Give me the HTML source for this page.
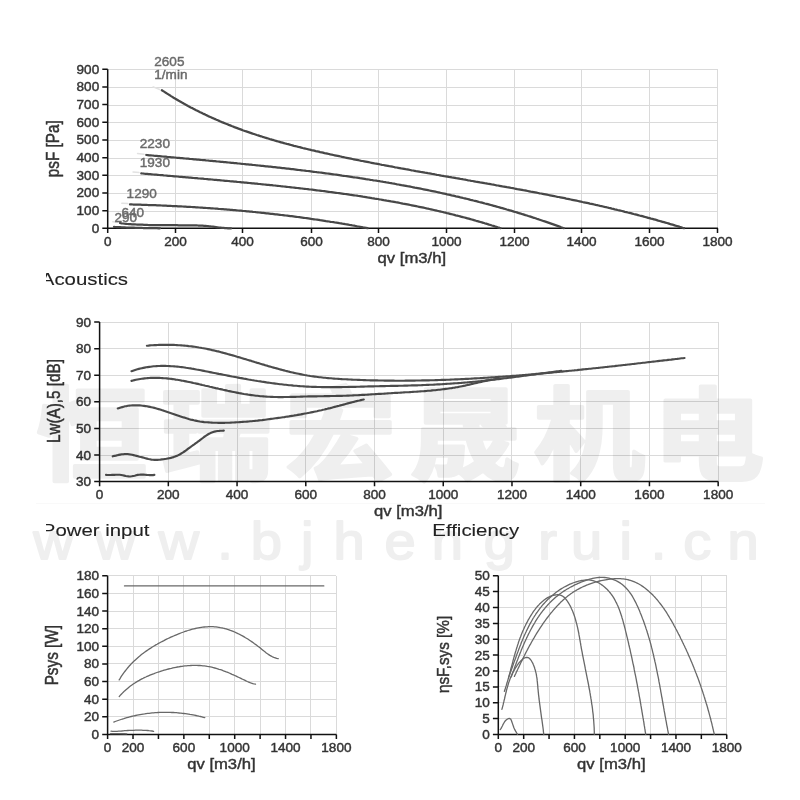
<!DOCTYPE html>
<html lang="zh"><head><meta charset="utf-8"><title>Fan curves</title>
<style>
html,body{margin:0;padding:0;background:#fff;}
body{width:800px;height:800px;overflow:hidden;font-family:"Liberation Sans", Arial, Helvetica, sans-serif;}
svg{display:block;font-family:"Liberation Sans", Arial, Helvetica, sans-serif;filter:blur(0.3px);}
.g{stroke:#dadada;stroke-width:1;fill:none;shape-rendering:crispEdges}
.ax{stroke:#111;stroke-width:1.5;fill:none}
.c1{stroke:#484848;stroke-width:2.25;fill:none;stroke-linecap:round;stroke-linejoin:round}
.c2{stroke:#4c4c4c;stroke-width:2.15;fill:none;stroke-linecap:round;stroke-linejoin:round}
.c3{stroke:#686868;stroke-width:1.3;fill:none;stroke-linecap:round;stroke-linejoin:round}
</style></head><body>
<svg width="800" height="800" viewBox="0 0 800 800">
<defs><clipPath id="clipL"><rect x="46" y="0" width="760" height="800"/></clipPath></defs>
<g clip-path="url(#clipL)">
<text transform="translate(40.8,284.6) scale(1.2,1)" font-size="17" text-anchor="start" fill="#222" stroke="#222" stroke-width="0.1">Acoustics</text>
<text transform="translate(41.8,536.3) scale(1.2,1)" font-size="17" text-anchor="start" fill="#222" stroke="#222" stroke-width="0.1">Power input</text>
</g>
<text transform="translate(432.3,536.3) scale(1.2,1)" font-size="17" text-anchor="start" fill="#222" stroke="#222" stroke-width="0.1">Efficiency</text>
<path d="M36,503.5 H765" stroke="#f9f9f9" stroke-width="1" fill="none"/>
<path class="g" d="M175.5,69.25 V228.35 M242.5,69.25 V228.35 M311.5,69.25 V228.35 M378.5,69.25 V228.35 M446.5,69.25 V228.35 M514.5,69.25 V228.35 M581.5,69.25 V228.35 M649.5,69.25 V228.35 M717.5,69.25 V228.35 M107.7,211.5 H717.9 M107.7,193.5 H717.9 M107.7,175.5 H717.9 M107.7,158.5 H717.9 M107.7,140.5 H717.9 M107.7,122.5 H717.9 M107.7,105.5 H717.9 M107.7,87.5 H717.9 M107.7,69.5 H717.9 "/>
<path class="ax" d="M107.7,69.25 V228.35 H717.9 M107.7,228.35 v4.6 M175.5,228.35 v4.6 M242.5,228.35 v4.6 M311.5,228.35 v4.6 M378.5,228.35 v4.6 M446.5,228.35 v4.6 M514.5,228.35 v4.6 M581.5,228.35 v4.6 M649.5,228.35 v4.6 M717.5,228.35 v4.6 M107.7,228.35 h-5.4 M107.7,210.67 h-5.4 M107.7,192.99 h-5.4 M107.7,175.32 h-5.4 M107.7,157.64 h-5.4 M107.7,139.96 h-5.4 M107.7,122.28 h-5.4 M107.7,104.6 h-5.4 M107.7,86.93 h-5.4 M107.7,69.25 h-5.4 "/>
<text transform="translate(107.7,245.85) scale(1.13,1)" font-size="12" text-anchor="middle" fill="#333" stroke="#333" stroke-width="0.4">0</text>
<text transform="translate(175.5,245.85) scale(1.13,1)" font-size="12" text-anchor="middle" fill="#333" stroke="#333" stroke-width="0.4">200</text>
<text transform="translate(242.5,245.85) scale(1.13,1)" font-size="12" text-anchor="middle" fill="#333" stroke="#333" stroke-width="0.4">400</text>
<text transform="translate(311.5,245.85) scale(1.13,1)" font-size="12" text-anchor="middle" fill="#333" stroke="#333" stroke-width="0.4">600</text>
<text transform="translate(378.5,245.85) scale(1.13,1)" font-size="12" text-anchor="middle" fill="#333" stroke="#333" stroke-width="0.4">800</text>
<text transform="translate(446.5,245.85) scale(1.13,1)" font-size="12" text-anchor="middle" fill="#333" stroke="#333" stroke-width="0.4">1000</text>
<text transform="translate(514.5,245.85) scale(1.13,1)" font-size="12" text-anchor="middle" fill="#333" stroke="#333" stroke-width="0.4">1200</text>
<text transform="translate(581.5,245.85) scale(1.13,1)" font-size="12" text-anchor="middle" fill="#333" stroke="#333" stroke-width="0.4">1400</text>
<text transform="translate(649.5,245.85) scale(1.13,1)" font-size="12" text-anchor="middle" fill="#333" stroke="#333" stroke-width="0.4">1600</text>
<text transform="translate(717.5,245.85) scale(1.13,1)" font-size="12" text-anchor="middle" fill="#333" stroke="#333" stroke-width="0.4">1800</text>
<text transform="translate(99.2,232.85) scale(1.13,1)" font-size="12" text-anchor="end" fill="#333" stroke="#333" stroke-width="0.4">0</text>
<text transform="translate(99.2,215.17) scale(1.13,1)" font-size="12" text-anchor="end" fill="#333" stroke="#333" stroke-width="0.4">100</text>
<text transform="translate(99.2,197.49) scale(1.13,1)" font-size="12" text-anchor="end" fill="#333" stroke="#333" stroke-width="0.4">200</text>
<text transform="translate(99.2,179.82) scale(1.13,1)" font-size="12" text-anchor="end" fill="#333" stroke="#333" stroke-width="0.4">300</text>
<text transform="translate(99.2,162.14) scale(1.13,1)" font-size="12" text-anchor="end" fill="#333" stroke="#333" stroke-width="0.4">400</text>
<text transform="translate(99.2,144.46) scale(1.13,1)" font-size="12" text-anchor="end" fill="#333" stroke="#333" stroke-width="0.4">500</text>
<text transform="translate(99.2,126.78) scale(1.13,1)" font-size="12" text-anchor="end" fill="#333" stroke="#333" stroke-width="0.4">600</text>
<text transform="translate(99.2,109.1) scale(1.13,1)" font-size="12" text-anchor="end" fill="#333" stroke="#333" stroke-width="0.4">700</text>
<text transform="translate(99.2,91.43) scale(1.13,1)" font-size="12" text-anchor="end" fill="#333" stroke="#333" stroke-width="0.4">800</text>
<text transform="translate(99.2,73.75) scale(1.13,1)" font-size="12" text-anchor="end" fill="#333" stroke="#333" stroke-width="0.4">900</text>
<text transform="translate(411.8,262.8) scale(1.19,1)" font-size="14" text-anchor="middle" fill="#333" stroke="#333" stroke-width="0.4">qv [m3/h]</text>
<text transform="translate(59.4,148.7) rotate(-90) scale(1.04,1.19)" font-size="14.7" text-anchor="middle" fill="#333" stroke="#333" stroke-width="0.4">psF [Pa]</text>
<path class="c1" d="M161.9,90.3 163.2,91.1 164.5,91.9 165.8,92.8 167.1,93.6 168.4,94.4 169.7,95.2 171.0,96.1 172.3,96.9 173.6,97.7 174.9,98.4 176.2,99.2 177.5,100.0 178.8,100.8 180.1,101.5 181.5,102.3 182.8,103.0 184.1,103.8 185.4,104.5 186.7,105.2 188.1,106.0 189.4,106.7 190.7,107.4 192.1,108.1 193.4,108.8 194.8,109.5 196.1,110.2 197.4,110.8 198.8,111.5 200.1,112.2 201.5,112.8 202.8,113.5 204.2,114.1 205.5,114.8 206.9,115.4 208.2,116.1 209.6,116.7 211.0,117.3 212.3,117.9 213.7,118.5 215.1,119.1 216.4,119.7 217.8,120.3 219.2,120.9 220.5,121.5 221.9,122.1 223.3,122.6 224.7,123.2 226.1,123.8 227.4,124.3 228.8,124.9 230.2,125.4 231.6,126.0 233.0,126.5 234.4,127.1 235.8,127.6 237.2,128.1 238.5,128.6 239.9,129.1 241.3,129.6 242.7,130.2 244.1,130.7 245.5,131.2 246.9,131.6 248.4,132.1 249.8,132.6 251.2,133.1 252.6,133.6 254.0,134.0 255.4,134.5 256.8,135.0 258.2,135.4 259.6,135.9 261.1,136.3 262.5,136.8 263.9,137.2 265.3,137.7 266.7,138.1 268.2,138.5 269.6,139.0 271.0,139.4 272.4,139.8 273.9,140.2 275.3,140.7 276.7,141.1 278.2,141.5 279.6,141.9 281.0,142.3 282.5,142.7 283.9,143.1 285.3,143.5 286.8,143.9 288.2,144.2 289.7,144.6 291.1,145.0 292.5,145.4 294.0,145.8 295.4,146.1 296.9,146.5 298.3,146.9 299.8,147.2 301.2,147.6 302.7,148.0 304.1,148.3 305.6,148.7 307.0,149.0 308.5,149.4 309.9,149.7 311.4,150.1 312.8,150.4 314.3,150.7 315.7,151.1 317.2,151.4 318.7,151.7 320.1,152.1 321.6,152.4 323.0,152.7 324.5,153.1 326.0,153.4 327.4,153.7 328.9,154.0 330.3,154.4 331.8,154.7 333.3,155.0 334.7,155.3 336.2,155.6 337.7,155.9 339.1,156.2 340.6,156.5 342.1,156.9 343.5,157.2 345.0,157.5 346.5,157.8 348.0,158.1 349.4,158.4 350.9,158.7 352.4,159.0 353.8,159.3 355.3,159.6 356.8,159.9 358.3,160.2 359.7,160.5 361.2,160.8 362.7,161.0 364.2,161.3 365.6,161.6 367.1,161.9 368.6,162.2 370.1,162.5 371.5,162.8 373.0,163.1 374.5,163.4 376.0,163.6 377.5,163.9 378.9,164.2 380.4,164.5 381.9,164.8 383.4,165.0 384.9,165.3 386.3,165.6 387.8,165.9 389.3,166.2 390.8,166.4 392.3,166.7 393.8,167.0 395.2,167.3 396.7,167.5 398.2,167.8 399.7,168.1 401.2,168.4 402.7,168.6 404.1,168.9 405.6,169.2 407.1,169.4 408.6,169.7 410.1,170.0 411.6,170.3 413.1,170.5 414.5,170.8 416.0,171.1 417.5,171.3 419.0,171.6 420.5,171.9 422.0,172.1 423.5,172.4 425.0,172.7 426.5,172.9 427.9,173.2 429.4,173.4 430.9,173.7 432.4,174.0 433.9,174.2 435.4,174.5 436.9,174.8 438.4,175.0 439.9,175.3 441.3,175.6 442.8,175.8 444.3,176.1 445.8,176.3 447.3,176.6 448.8,176.9 450.3,177.1 451.8,177.4 453.3,177.6 454.8,177.9 456.2,178.2 457.7,178.4 459.2,178.7 460.7,179.0 462.2,179.2 463.7,179.5 465.2,179.7 466.7,180.0 468.2,180.3 469.7,180.5 471.1,180.8 472.6,181.0 474.1,181.3 475.6,181.6 477.1,181.8 478.6,182.1 480.1,182.4 481.6,182.6 483.1,182.9 484.6,183.2 486.1,183.4 487.5,183.7 489.0,183.9 490.5,184.2 492.0,184.5 493.5,184.7 495.0,185.0 496.5,185.3 498.0,185.5 499.5,185.8 500.9,186.1 502.4,186.4 503.9,186.6 505.4,186.9 506.9,187.2 508.4,187.4 509.9,187.7 511.4,188.0 512.9,188.2 514.3,188.5 515.8,188.8 517.3,189.1 518.8,189.3 520.3,189.6 521.8,189.9 523.3,190.2 524.8,190.4 526.2,190.7 527.7,191.0 529.2,191.3 530.7,191.6 532.2,191.8 533.7,192.1 535.1,192.4 536.6,192.7 538.1,193.0 539.6,193.3 541.1,193.5 542.6,193.8 544.0,194.1 545.5,194.4 547.0,194.7 548.5,195.0 550.0,195.3 551.5,195.6 552.9,195.9 554.4,196.2 555.9,196.5 557.4,196.8 558.9,197.0 560.3,197.3 561.8,197.6 563.3,197.9 564.8,198.2 566.2,198.6 567.7,198.9 569.2,199.2 570.7,199.5 572.2,199.8 573.6,200.1 575.1,200.4 576.6,200.7 578.0,201.0 579.5,201.3 581.0,201.6 582.5,202.0 583.9,202.3 585.4,202.6 586.9,202.9 588.4,203.2 589.8,203.6 591.3,203.9 592.8,204.2 594.2,204.5 595.7,204.9 597.2,205.2 598.6,205.5 600.1,205.9 601.6,206.2 603.0,206.5 604.5,206.9 606.0,207.2 607.4,207.5 608.9,207.9 610.3,208.2 611.8,208.6 613.3,208.9 614.7,209.3 616.2,209.6 617.6,210.0 619.1,210.3 620.6,210.7 622.0,211.0 623.5,211.4 624.9,211.8 626.4,212.1 627.8,212.5 629.3,212.8 630.8,213.2 632.2,213.6 633.7,214.0 635.1,214.3 636.6,214.7 638.0,215.1 639.5,215.5 640.9,215.8 642.4,216.2 643.8,216.6 645.2,217.0 646.7,217.4 648.1,217.8 649.6,218.2 651.0,218.6 652.5,218.9 653.9,219.3 655.4,219.7 656.8,220.1 658.2,220.6 659.7,221.0 661.1,221.4 662.5,221.8 664.0,222.2 665.4,222.6 666.9,223.0 668.3,223.4 669.7,223.9 671.1,224.3 672.6,224.7 674.0,225.1 675.4,225.6 676.9,226.0 678.3,226.4 679.7,226.9 681.2,227.3 682.6,227.8 684.0,228.2"/>
<path class="c1" d="M146.3,155.0 147.7,155.1 149.2,155.3 150.7,155.4 152.2,155.5 153.7,155.7 155.2,155.8 156.7,155.9 158.2,156.1 159.7,156.2 161.2,156.3 162.7,156.5 164.2,156.6 165.7,156.7 167.2,156.9 168.6,157.0 170.1,157.1 171.6,157.3 173.1,157.4 174.6,157.5 176.1,157.7 177.6,157.8 179.1,157.9 180.6,158.1 182.1,158.2 183.6,158.3 185.1,158.5 186.6,158.6 188.1,158.7 189.6,158.9 191.1,159.0 192.6,159.1 194.1,159.3 195.6,159.4 197.1,159.6 198.6,159.7 200.1,159.8 201.6,160.0 203.0,160.1 204.5,160.2 206.0,160.4 207.5,160.5 209.0,160.7 210.5,160.8 212.0,160.9 213.5,161.1 215.0,161.2 216.5,161.4 218.0,161.5 219.5,161.6 221.0,161.8 222.5,161.9 224.0,162.1 225.5,162.2 227.0,162.3 228.5,162.5 230.0,162.6 231.5,162.8 233.0,162.9 234.5,163.1 236.0,163.2 237.5,163.4 239.0,163.5 240.5,163.7 242.0,163.8 243.5,164.0 245.0,164.1 246.5,164.3 248.0,164.4 249.5,164.6 251.0,164.7 252.5,164.9 254.0,165.0 255.5,165.2 257.0,165.3 258.5,165.5 260.0,165.6 261.5,165.8 262.9,165.9 264.4,166.1 265.9,166.3 267.4,166.4 268.9,166.6 270.4,166.7 271.9,166.9 273.4,167.1 274.9,167.2 276.4,167.4 277.9,167.6 279.4,167.7 280.9,167.9 282.4,168.1 283.9,168.2 285.4,168.4 286.9,168.6 288.4,168.7 289.9,168.9 291.4,169.1 292.9,169.2 294.4,169.4 295.9,169.6 297.4,169.8 298.9,170.0 300.4,170.1 301.8,170.3 303.3,170.5 304.8,170.7 306.3,170.9 307.8,171.0 309.3,171.2 310.8,171.4 312.3,171.6 313.8,171.8 315.3,172.0 316.8,172.2 318.3,172.3 319.8,172.5 321.3,172.7 322.8,172.9 324.2,173.1 325.7,173.3 327.2,173.5 328.7,173.7 330.2,173.9 331.7,174.1 333.2,174.3 334.7,174.5 336.2,174.7 337.7,174.9 339.2,175.1 340.6,175.3 342.1,175.6 343.6,175.8 345.1,176.0 346.6,176.2 348.1,176.4 349.6,176.6 351.1,176.8 352.6,177.1 354.0,177.3 355.5,177.5 357.0,177.7 358.5,177.9 360.0,178.2 361.5,178.4 363.0,178.6 364.5,178.8 365.9,179.1 367.4,179.3 368.9,179.5 370.4,179.8 371.9,180.0 373.4,180.3 374.8,180.5 376.3,180.7 377.8,181.0 379.3,181.2 380.8,181.5 382.3,181.7 383.7,182.0 385.2,182.2 386.7,182.5 388.2,182.7 389.7,183.0 391.1,183.2 392.6,183.5 394.1,183.7 395.6,184.0 397.1,184.3 398.5,184.5 400.0,184.8 401.5,185.1 403.0,185.3 404.4,185.6 405.9,185.9 407.4,186.2 408.9,186.4 410.4,186.7 411.8,187.0 413.3,187.3 414.8,187.6 416.3,187.8 417.7,188.1 419.2,188.4 420.7,188.7 422.1,189.0 423.6,189.3 425.1,189.6 426.6,189.9 428.0,190.2 429.5,190.5 431.0,190.8 432.4,191.1 433.9,191.4 435.4,191.7 436.8,192.0 438.3,192.3 439.8,192.7 441.2,193.0 442.7,193.3 444.2,193.6 445.6,193.9 447.1,194.3 448.6,194.6 450.0,194.9 451.5,195.3 453.0,195.6 454.4,195.9 455.9,196.3 457.3,196.6 458.8,196.9 460.3,197.3 461.7,197.6 463.2,198.0 464.6,198.3 466.1,198.7 467.6,199.0 469.0,199.4 470.5,199.8 471.9,200.1 473.4,200.5 474.8,200.8 476.3,201.2 477.8,201.6 479.2,202.0 480.7,202.3 482.1,202.7 483.6,203.1 485.0,203.5 486.5,203.8 487.9,204.2 489.4,204.6 490.8,205.0 492.3,205.4 493.7,205.8 495.2,206.2 496.6,206.6 498.1,207.0 499.5,207.4 500.9,207.8 502.4,208.2 503.8,208.6 505.3,209.0 506.7,209.5 508.2,209.9 509.6,210.3 511.0,210.7 512.5,211.1 513.9,211.6 515.4,212.0 516.8,212.4 518.2,212.9 519.7,213.3 521.1,213.7 522.5,214.2 524.0,214.6 525.4,215.1 526.9,215.5 528.3,216.0 529.7,216.4 531.2,216.9 532.6,217.4 534.0,217.8 535.4,218.3 536.9,218.8 538.3,219.2 539.7,219.7 541.2,220.2 542.6,220.7 544.0,221.2 545.4,221.6 546.9,222.1 548.3,222.6 549.7,223.1 551.1,223.6 552.6,224.1 554.0,224.6 555.4,225.1 556.8,225.6 558.2,226.1 559.6,226.6 561.1,227.2 562.5,227.7 563.9,228.2"/>
<path class="c1" d="M141.3,173.4 142.7,173.5 144.2,173.7 145.7,173.8 147.2,173.9 148.7,174.1 150.2,174.2 151.7,174.3 153.2,174.5 154.7,174.6 156.2,174.7 157.7,174.8 159.2,175.0 160.7,175.1 162.2,175.2 163.7,175.4 165.2,175.5 166.7,175.6 168.2,175.8 169.7,175.9 171.2,176.0 172.7,176.1 174.2,176.3 175.7,176.4 177.2,176.5 178.7,176.7 180.2,176.8 181.7,176.9 183.2,177.1 184.7,177.2 186.2,177.3 187.7,177.4 189.2,177.6 190.7,177.7 192.2,177.8 193.7,178.0 195.2,178.1 196.7,178.2 198.2,178.4 199.7,178.5 201.2,178.6 202.7,178.7 204.2,178.9 205.7,179.0 207.2,179.1 208.7,179.3 210.2,179.4 211.7,179.5 213.2,179.7 214.7,179.8 216.2,179.9 217.7,180.1 219.2,180.2 220.7,180.3 222.2,180.5 223.7,180.6 225.2,180.8 226.7,180.9 228.2,181.0 229.7,181.2 231.2,181.3 232.7,181.4 234.2,181.6 235.7,181.7 237.2,181.9 238.7,182.0 240.2,182.1 241.7,182.3 243.2,182.4 244.7,182.6 246.2,182.7 247.7,182.8 249.2,183.0 250.7,183.1 252.2,183.3 253.7,183.4 255.2,183.6 256.7,183.7 258.2,183.9 259.7,184.0 261.2,184.2 262.7,184.3 264.2,184.5 265.7,184.6 267.2,184.8 268.7,184.9 270.2,185.1 271.7,185.2 273.2,185.4 274.7,185.5 276.2,185.7 277.7,185.8 279.2,186.0 280.7,186.2 282.2,186.3 283.7,186.5 285.2,186.6 286.7,186.8 288.2,187.0 289.7,187.1 291.2,187.3 292.7,187.5 294.2,187.6 295.7,187.8 297.2,188.0 298.7,188.1 300.2,188.3 301.7,188.5 303.2,188.7 304.7,188.8 306.2,189.0 307.7,189.2 309.2,189.4 310.7,189.5 312.2,189.7 313.7,189.9 315.2,190.1 316.7,190.3 318.2,190.5 319.7,190.6 321.2,190.8 322.7,191.0 324.2,191.2 325.7,191.4 327.1,191.6 328.6,191.8 330.1,192.0 331.6,192.2 333.1,192.4 334.6,192.6 336.1,192.8 337.6,193.0 339.1,193.2 340.6,193.4 342.1,193.6 343.6,193.8 345.1,194.0 346.5,194.2 348.0,194.4 349.5,194.7 351.0,194.9 352.5,195.1 354.0,195.3 355.5,195.5 357.0,195.7 358.5,196.0 360.0,196.2 361.4,196.4 362.9,196.7 364.4,196.9 365.9,197.1 367.4,197.4 368.9,197.6 370.4,197.8 371.8,198.1 373.3,198.3 374.8,198.6 376.3,198.8 377.8,199.0 379.3,199.3 380.7,199.5 382.2,199.8 383.7,200.1 385.2,200.3 386.7,200.6 388.2,200.8 389.6,201.1 391.1,201.4 392.6,201.6 394.1,201.9 395.6,202.2 397.0,202.4 398.5,202.7 400.0,203.0 401.5,203.3 402.9,203.6 404.4,203.8 405.9,204.1 407.4,204.4 408.8,204.7 410.3,205.0 411.8,205.3 413.3,205.6 414.7,205.9 416.2,206.2 417.7,206.5 419.1,206.8 420.6,207.1 422.1,207.4 423.6,207.7 425.0,208.0 426.5,208.4 428.0,208.7 429.4,209.0 430.9,209.3 432.4,209.7 433.8,210.0 435.3,210.3 436.8,210.7 438.2,211.0 439.7,211.3 441.1,211.7 442.6,212.0 444.1,212.4 445.5,212.7 447.0,213.1 448.5,213.4 449.9,213.8 451.4,214.2 452.8,214.5 454.3,214.9 455.7,215.3 457.2,215.6 458.7,216.0 460.1,216.4 461.6,216.8 463.0,217.2 464.5,217.5 465.9,217.9 467.4,218.3 468.8,218.7 470.3,219.1 471.7,219.5 473.2,219.9 474.6,220.3 476.1,220.8 477.5,221.2 479.0,221.6 480.4,222.0 481.9,222.4 483.3,222.8 484.8,223.3 486.2,223.7 487.6,224.1 489.1,224.6 490.5,225.0 492.0,225.5 493.4,225.9 494.8,226.4 496.3,226.8 497.7,227.3 499.2,227.7 500.6,228.2"/>
<path class="c1" d="M130.0,204.4 131.5,204.4 133.0,204.5 134.5,204.5 136.0,204.6 137.5,204.6 139.0,204.7 140.5,204.7 142.0,204.8 143.5,204.8 145.0,204.9 146.5,204.9 148.0,205.0 149.5,205.0 151.0,205.1 152.5,205.1 154.0,205.2 155.5,205.2 157.0,205.3 158.5,205.4 160.0,205.4 161.5,205.5 163.0,205.6 164.5,205.6 166.0,205.7 167.5,205.8 169.0,205.8 170.5,205.9 172.0,206.0 173.5,206.0 175.0,206.1 176.5,206.2 178.0,206.3 179.5,206.4 181.1,206.4 182.6,206.5 184.1,206.6 185.6,206.7 187.1,206.8 188.6,206.9 190.1,206.9 191.6,207.0 193.1,207.1 194.6,207.2 196.1,207.3 197.6,207.4 199.1,207.5 200.6,207.6 202.1,207.7 203.6,207.8 205.1,207.9 206.6,208.0 208.1,208.1 209.6,208.2 211.1,208.3 212.6,208.4 214.1,208.5 215.5,208.6 217.0,208.7 218.5,208.9 220.0,209.0 221.5,209.1 223.0,209.2 224.5,209.3 226.0,209.4 227.5,209.6 229.0,209.7 230.5,209.8 232.0,209.9 233.5,210.1 235.0,210.2 236.5,210.3 238.0,210.5 239.5,210.6 241.0,210.7 242.5,210.9 244.0,211.0 245.5,211.1 247.0,211.3 248.5,211.4 250.0,211.6 251.5,211.7 253.0,211.9 254.5,212.0 256.0,212.2 257.5,212.3 259.0,212.5 260.5,212.6 262.0,212.8 263.4,212.9 264.9,213.1 266.4,213.3 267.9,213.4 269.4,213.6 270.9,213.8 272.4,213.9 273.9,214.1 275.4,214.3 276.9,214.4 278.4,214.6 279.9,214.8 281.4,215.0 282.9,215.1 284.3,215.3 285.8,215.5 287.3,215.7 288.8,215.9 290.3,216.1 291.8,216.2 293.3,216.4 294.8,216.6 296.3,216.8 297.8,217.0 299.3,217.2 300.7,217.4 302.2,217.6 303.7,217.8 305.2,218.0 306.7,218.2 308.2,218.4 309.7,218.6 311.2,218.9 312.7,219.1 314.1,219.3 315.6,219.5 317.1,219.7 318.6,219.9 320.1,220.2 321.6,220.4 323.1,220.6 324.5,220.8 326.0,221.1 327.5,221.3 329.0,221.5 330.5,221.8 332.0,222.0 333.5,222.2 334.9,222.5 336.4,222.7 337.9,222.9 339.4,223.2 340.9,223.4 342.3,223.7 343.8,223.9 345.3,224.2 346.8,224.4 348.3,224.7 349.8,225.0 351.2,225.2 352.7,225.5 354.2,225.7 355.7,226.0 357.2,226.3 358.6,226.5 360.1,226.8 361.6,227.1 363.1,227.4 364.5,227.6 366.0,227.9 367.5,228.2"/>
<path class="c1" d="M120.0,223.0 121.5,223.3 123.0,223.5 124.5,223.7 126.0,223.8 127.5,224.0 129.0,224.1 130.5,224.2 132.0,224.3 133.5,224.4 135.0,224.4 136.5,224.5 138.0,224.5 139.5,224.6 141.0,224.6 142.5,224.7 144.0,224.8 145.5,224.8 147.0,224.9 148.5,225.0 150.0,225.0 151.5,225.1 153.0,225.1 154.5,225.2 156.0,225.2 157.5,225.2 159.0,225.2 160.5,225.1 162.0,225.1 163.5,225.1 165.0,225.1 166.5,225.1 168.0,225.1 169.5,225.1 171.0,225.1 172.5,225.1 174.0,225.2 175.5,225.2 177.0,225.2 178.5,225.3 180.0,225.3 181.5,225.3 183.0,225.3 184.5,225.4 186.0,225.4 187.5,225.4 189.0,225.4 190.5,225.4 192.0,225.4 193.5,225.4 195.0,225.4 196.5,225.4 198.1,225.5 199.6,225.5 201.1,225.6 202.6,225.7 204.1,225.8 205.6,225.9 207.1,226.0 208.6,226.2 210.1,226.3 211.5,226.5 213.0,226.7 214.5,226.9 216.0,227.1 217.5,227.3 219.0,227.5 220.5,227.6 222.0,227.8 223.5,227.9 225.0,228.1 226.5,228.2 228.0,228.3 229.5,228.4 231.0,228.4"/>
<path class="c1" d="M114.0,226.9 115.5,227.0 117.1,227.1 118.6,227.1 120.1,227.2 121.7,227.3 123.2,227.3 124.7,227.4 126.3,227.5 127.8,227.5 129.3,227.6 130.9,227.6 132.4,227.7 133.9,227.7 135.5,227.8 137.0,227.8 138.5,227.9 140.1,227.9 141.6,227.9 143.1,228.0 144.7,228.0 146.2,228.0 147.7,228.1 149.3,228.1 150.8,228.1 152.3,228.2 153.9,228.2 155.4,228.2 156.9,228.2 158.5,228.3 160.0,228.3"/>
<path d="M159.7,89.45 l-6.5,-2.6" stroke="#e2e2e2" stroke-width="1.5" fill="none" stroke-linecap="round"/>
<path d="M144.05,154.2 l-6.5,-0.6" stroke="#e2e2e2" stroke-width="1.5" fill="none" stroke-linecap="round"/>
<path d="M139.05,172.6 l-6,-0.5" stroke="#e2e2e2" stroke-width="1.5" fill="none" stroke-linecap="round"/>
<path d="M127.8,203.6 l-6,-0.4" stroke="#e2e2e2" stroke-width="1.5" fill="none" stroke-linecap="round"/>
<path d="M117.8,222.2 l-5,-0.4" stroke="#e2e2e2" stroke-width="1.5" fill="none" stroke-linecap="round"/>
<text transform="translate(154.3,66) scale(1.13,1)" font-size="12" text-anchor="start" fill="#6a6a6a" stroke="#6a6a6a" stroke-width="0.4">2605</text>
<text transform="translate(154.3,78.8) scale(1.13,1)" font-size="12" text-anchor="start" fill="#6a6a6a" stroke="#6a6a6a" stroke-width="0.4">1/min</text>
<text transform="translate(139.8,148.2) scale(1.13,1)" font-size="12" text-anchor="start" fill="#6a6a6a" stroke="#6a6a6a" stroke-width="0.4">2230</text>
<text transform="translate(139.8,166.8) scale(1.13,1)" font-size="12" text-anchor="start" fill="#6a6a6a" stroke="#6a6a6a" stroke-width="0.4">1930</text>
<text transform="translate(126.6,197.6) scale(1.13,1)" font-size="12" text-anchor="start" fill="#6a6a6a" stroke="#6a6a6a" stroke-width="0.4">1290</text>
<text transform="translate(121.5,216.8) scale(1.13,1)" font-size="12" text-anchor="start" fill="#6a6a6a" stroke="#6a6a6a" stroke-width="0.4">640</text>
<text transform="translate(114.5,222) scale(1.13,1)" font-size="12" text-anchor="start" fill="#6a6a6a" stroke="#6a6a6a" stroke-width="0.4">290</text>
<path class="g" d="M168.5,322.12 V481.6 M237.5,322.12 V481.6 M305.5,322.12 V481.6 M374.5,322.12 V481.6 M443.5,322.12 V481.6 M511.5,322.12 V481.6 M580.5,322.12 V481.6 M649.5,322.12 V481.6 M718.5,322.12 V481.6 M99.6,455.5 H718.17 M99.6,428.5 H718.17 M99.6,401.5 H718.17 M99.6,375.5 H718.17 M99.6,348.5 H718.17 M99.6,322.5 H718.17 "/>
<path class="ax" d="M99.6,322.12 V481.6 H718.17 M99.6,481.6 v4.6 M168.33,481.6 v4.6 M237.06,481.6 v4.6 M305.79,481.6 v4.6 M374.52,481.6 v4.6 M443.25,481.6 v4.6 M511.98,481.6 v4.6 M580.71,481.6 v4.6 M649.44,481.6 v4.6 M718.17,481.6 v4.6 M99.6,481.6 h-5.4 M99.6,455.02 h-5.4 M99.6,428.44 h-5.4 M99.6,401.86 h-5.4 M99.6,375.28 h-5.4 M99.6,348.7 h-5.4 M99.6,322.12 h-5.4 "/>
<text transform="translate(99.6,499.1) scale(1.13,1)" font-size="12" text-anchor="middle" fill="#333" stroke="#333" stroke-width="0.4">0</text>
<text transform="translate(168.33,499.1) scale(1.13,1)" font-size="12" text-anchor="middle" fill="#333" stroke="#333" stroke-width="0.4">200</text>
<text transform="translate(237.06,499.1) scale(1.13,1)" font-size="12" text-anchor="middle" fill="#333" stroke="#333" stroke-width="0.4">400</text>
<text transform="translate(305.79,499.1) scale(1.13,1)" font-size="12" text-anchor="middle" fill="#333" stroke="#333" stroke-width="0.4">600</text>
<text transform="translate(374.52,499.1) scale(1.13,1)" font-size="12" text-anchor="middle" fill="#333" stroke="#333" stroke-width="0.4">800</text>
<text transform="translate(443.25,499.1) scale(1.13,1)" font-size="12" text-anchor="middle" fill="#333" stroke="#333" stroke-width="0.4">1000</text>
<text transform="translate(511.98,499.1) scale(1.13,1)" font-size="12" text-anchor="middle" fill="#333" stroke="#333" stroke-width="0.4">1200</text>
<text transform="translate(580.71,499.1) scale(1.13,1)" font-size="12" text-anchor="middle" fill="#333" stroke="#333" stroke-width="0.4">1400</text>
<text transform="translate(649.44,499.1) scale(1.13,1)" font-size="12" text-anchor="middle" fill="#333" stroke="#333" stroke-width="0.4">1600</text>
<text transform="translate(718.17,499.1) scale(1.13,1)" font-size="12" text-anchor="middle" fill="#333" stroke="#333" stroke-width="0.4">1800</text>
<text transform="translate(91.1,486.1) scale(1.13,1)" font-size="12" text-anchor="end" fill="#333" stroke="#333" stroke-width="0.4">30</text>
<text transform="translate(91.1,459.52) scale(1.13,1)" font-size="12" text-anchor="end" fill="#333" stroke="#333" stroke-width="0.4">40</text>
<text transform="translate(91.1,432.94) scale(1.13,1)" font-size="12" text-anchor="end" fill="#333" stroke="#333" stroke-width="0.4">50</text>
<text transform="translate(91.1,406.36) scale(1.13,1)" font-size="12" text-anchor="end" fill="#333" stroke="#333" stroke-width="0.4">60</text>
<text transform="translate(91.1,379.78) scale(1.13,1)" font-size="12" text-anchor="end" fill="#333" stroke="#333" stroke-width="0.4">70</text>
<text transform="translate(91.1,353.2) scale(1.13,1)" font-size="12" text-anchor="end" fill="#333" stroke="#333" stroke-width="0.4">80</text>
<text transform="translate(91.1,326.62) scale(1.13,1)" font-size="12" text-anchor="end" fill="#333" stroke="#333" stroke-width="0.4">90</text>
<text transform="translate(408.2,516.3) scale(1.19,1)" font-size="14" text-anchor="middle" fill="#333" stroke="#333" stroke-width="0.4">qv [m3/h]</text>
<text transform="translate(60,401) rotate(-90) scale(1.04,1.19)" font-size="14.7" text-anchor="middle" fill="#333" stroke="#333" stroke-width="0.4">Lw(A),5 [dB]</text>
<path class="c2" d="M146.9,345.7 148.4,345.6 149.9,345.4 151.4,345.3 152.9,345.2 154.5,345.1 156.0,345.1 157.5,345.0 159.0,344.9 160.5,344.9 162.0,344.8 163.5,344.8 165.0,344.8 166.4,344.8 167.9,344.8 169.4,344.8 170.9,344.9 172.4,344.9 173.9,344.9 175.4,345.0 176.9,345.1 178.4,345.2 179.8,345.3 181.3,345.4 182.8,345.5 184.3,345.6 185.8,345.8 187.2,345.9 188.7,346.1 190.2,346.2 191.7,346.4 193.1,346.6 194.6,346.8 196.1,347.0 197.5,347.2 199.0,347.5 200.5,347.7 202.0,348.0 203.4,348.2 204.9,348.5 206.4,348.8 207.8,349.1 209.3,349.4 210.8,349.7 212.2,350.1 213.7,350.4 215.1,350.7 216.6,351.1 218.1,351.4 219.5,351.8 221.0,352.2 222.5,352.6 223.9,353.0 225.4,353.4 226.8,353.8 228.3,354.2 229.8,354.6 231.2,355.0 232.7,355.4 234.1,355.8 235.6,356.2 237.1,356.7 238.5,357.1 240.0,357.5 241.4,358.0 242.9,358.4 244.4,358.9 245.8,359.3 247.3,359.8 248.8,360.2 250.2,360.6 251.7,361.1 253.1,361.5 254.6,362.0 256.1,362.4 257.5,362.9 259.0,363.3 260.4,363.8 261.9,364.2 263.4,364.6 264.8,365.1 266.3,365.5 267.8,365.9 269.2,366.4 270.7,366.8 272.2,367.2 273.6,367.6 275.1,368.0 276.6,368.4 278.0,368.8 279.5,369.2 281.0,369.6 282.4,370.0 283.9,370.4 285.4,370.8 286.8,371.1 288.3,371.5 289.8,371.9 291.2,372.2 292.7,372.5 294.2,372.9 295.7,373.2 297.1,373.5 298.6,373.8 300.1,374.1 301.5,374.4 303.0,374.7 304.5,375.0 306.0,375.2 307.4,375.5 308.9,375.7 310.4,376.0 311.9,376.2 313.3,376.4 314.8,376.6 316.3,376.8 317.8,377.0 319.2,377.2 320.7,377.3 322.2,377.5 323.7,377.7 325.2,377.8 326.6,378.0 328.1,378.1 329.6,378.2 331.1,378.3 332.6,378.5 334.0,378.6 335.5,378.7 337.0,378.8 338.5,378.9 340.0,379.0 341.4,379.1 342.9,379.2 344.4,379.2 345.9,379.3 347.4,379.4 348.9,379.5 350.4,379.5 351.8,379.6 353.3,379.7 354.8,379.7 356.3,379.8 357.8,379.9 359.3,379.9 360.8,380.0 362.2,380.0 363.7,380.1 365.2,380.1 366.7,380.2 368.2,380.2 369.7,380.3 371.2,380.3 372.7,380.3 374.2,380.4 375.7,380.4 377.2,380.4 378.6,380.5 380.1,380.5 381.6,380.5 383.1,380.5 384.6,380.6 386.1,380.6 387.6,380.6 389.1,380.6 390.6,380.6 392.1,380.6 393.6,380.6 395.1,380.7 396.6,380.7 398.1,380.7 399.6,380.7 401.1,380.7 402.6,380.7 404.1,380.7 405.6,380.6 407.1,380.6 408.6,380.6 410.1,380.6 411.6,380.6 413.1,380.6 414.6,380.6 416.1,380.5 417.6,380.5 419.1,380.5 420.6,380.5 422.1,380.4 423.6,380.4 425.1,380.4 426.6,380.3 428.1,380.3 429.6,380.3 431.1,380.2 432.6,380.2 434.1,380.2 435.6,380.1 437.1,380.1 438.6,380.0 440.1,380.0 441.6,379.9 443.1,379.9 444.6,379.8 446.1,379.8 447.6,379.7 449.1,379.7 450.6,379.6 452.1,379.5 453.6,379.5 455.1,379.4 456.7,379.3 458.2,379.3 459.7,379.2 461.2,379.1 462.7,379.1 464.2,379.0 465.7,378.9 467.2,378.8 468.7,378.8 470.2,378.7 471.7,378.6 473.2,378.5 474.7,378.4 476.2,378.4 477.7,378.3 479.2,378.2 480.8,378.1 482.3,378.0 483.8,377.9 485.3,377.8 486.8,377.7 488.3,377.6 489.8,377.5 491.3,377.4 492.8,377.3 494.3,377.2 495.8,377.1 497.3,377.0 498.8,376.9 500.3,376.8 501.9,376.7 503.4,376.6 504.9,376.5 506.4,376.4 507.9,376.3 509.4,376.2 510.9,376.0 512.4,375.9 513.9,375.8 515.4,375.7 516.9,375.6 518.4,375.5 519.9,375.3 521.4,375.2 523.0,375.1 524.5,375.0 526.0,374.8 527.5,374.7 529.0,374.6 530.5,374.5 532.0,374.3 533.5,374.2 535.0,374.1 536.5,373.9 538.0,373.8 539.5,373.7 541.0,373.5 542.5,373.4 544.0,373.3 545.5,373.1 547.1,373.0 548.6,372.9 550.1,372.7 551.6,372.6 553.1,372.4 554.6,372.3 556.1,372.2 557.6,372.0 559.1,371.9 560.6,371.7 562.1,371.6 563.6,371.4 565.1,371.3 566.6,371.1 568.1,371.0 569.6,370.8 571.1,370.7 572.6,370.5 574.1,370.4 575.6,370.2 577.1,370.1 578.6,369.9 580.1,369.8 581.6,369.6 583.1,369.4 584.6,369.3 586.1,369.1 587.6,369.0 589.1,368.8 590.6,368.7 592.1,368.5 593.6,368.3 595.1,368.2 596.6,368.0 598.1,367.9 599.6,367.7 601.1,367.5 602.6,367.4 604.1,367.2 605.6,367.0 607.1,366.9 608.6,366.7 610.1,366.5 611.6,366.4 613.1,366.2 614.6,366.1 616.1,365.9 617.6,365.7 619.1,365.5 620.6,365.4 622.1,365.2 623.6,365.0 625.1,364.9 626.6,364.7 628.1,364.5 629.6,364.4 631.1,364.2 632.5,364.0 634.0,363.9 635.5,363.7 637.0,363.5 638.5,363.3 640.0,363.2 641.5,363.0 643.0,362.8 644.5,362.7 646.0,362.5 647.4,362.3 648.9,362.1 650.4,362.0 651.9,361.8 653.4,361.6 654.9,361.5 656.4,361.3 657.8,361.1 659.3,360.9 660.8,360.8 662.3,360.6 663.8,360.4 665.3,360.2 666.7,360.1 668.2,359.9 669.7,359.7 671.2,359.6 672.7,359.4 674.2,359.2 675.6,359.0 677.1,358.9 678.6,358.7 680.1,358.5 681.5,358.3 683.0,358.2 684.5,358.0"/>
<path class="c2" d="M131.5,371.2 133.0,370.7 134.4,370.2 135.9,369.7 137.4,369.3 138.9,368.9 140.3,368.5 141.8,368.2 143.3,367.9 144.7,367.6 146.2,367.3 147.7,367.1 149.2,366.9 150.6,366.7 152.1,366.5 153.6,366.3 155.1,366.2 156.5,366.1 158.0,366.0 159.5,366.0 161.0,365.9 162.4,365.9 163.9,365.9 165.4,365.9 166.9,366.0 168.4,366.0 169.8,366.1 171.3,366.2 172.8,366.3 174.3,366.4 175.7,366.5 177.2,366.6 178.7,366.8 180.2,367.0 181.7,367.1 183.1,367.3 184.6,367.5 186.1,367.8 187.6,368.0 189.1,368.2 190.6,368.4 192.0,368.7 193.5,368.9 195.0,369.2 196.5,369.5 198.0,369.7 199.5,370.0 200.9,370.3 202.4,370.6 203.9,370.9 205.4,371.2 206.9,371.5 208.4,371.8 209.8,372.1 211.3,372.4 212.8,372.7 214.3,373.0 215.8,373.3 217.3,373.6 218.8,373.9 220.3,374.1 221.7,374.4 223.2,374.7 224.7,375.0 226.2,375.3 227.7,375.6 229.2,375.9 230.7,376.2 232.2,376.5 233.6,376.7 235.1,377.0 236.6,377.3 238.1,377.6 239.6,377.9 241.1,378.1 242.6,378.4 244.1,378.7 245.6,378.9 247.1,379.2 248.5,379.5 250.0,379.7 251.5,380.0 253.0,380.2 254.5,380.5 256.0,380.7 257.5,381.0 259.0,381.2 260.5,381.4 262.0,381.7 263.5,381.9 265.0,382.1 266.5,382.4 268.0,382.6 269.4,382.8 270.9,383.0 272.4,383.2 273.9,383.4 275.4,383.6 276.9,383.8 278.4,384.0 279.9,384.2 281.4,384.3 282.9,384.5 284.4,384.7 285.9,384.8 287.4,385.0 288.9,385.2 290.4,385.3 291.9,385.4 293.4,385.6 294.9,385.7 296.4,385.8 297.9,386.0 299.3,386.1 300.8,386.2 302.3,386.3 303.8,386.4 305.3,386.5 306.8,386.6 308.3,386.6 309.8,386.7 311.3,386.8 312.8,386.8 314.3,386.9 315.8,386.9 317.3,387.0 318.8,387.0 320.3,387.0 321.8,387.1 323.3,387.1 324.8,387.1 326.3,387.1 327.8,387.1 329.3,387.1 330.8,387.1 332.3,387.1 333.8,387.1 335.3,387.1 336.8,387.1 338.3,387.1 339.8,387.1 341.3,387.1 342.8,387.0 344.3,387.0 345.8,387.0 347.3,387.0 348.8,386.9 350.3,386.9 351.8,386.9 353.3,386.8 354.8,386.8 356.3,386.8 357.8,386.7 359.3,386.7 360.8,386.6 362.3,386.6 363.8,386.6 365.3,386.5 366.8,386.5 368.3,386.4 369.8,386.4 371.3,386.4 372.8,386.3 374.3,386.3 375.8,386.2 377.3,386.2 378.8,386.2 380.3,386.1 381.8,386.1 383.3,386.1 384.8,386.1 386.3,386.0 387.8,386.0 389.3,386.0 390.8,385.9 392.3,385.9 393.8,385.9 395.3,385.8 396.8,385.8 398.3,385.8 399.8,385.7 401.3,385.7 402.8,385.7 404.3,385.6 405.8,385.6 407.3,385.6 408.8,385.5 410.3,385.5 411.8,385.4 413.3,385.4 414.8,385.4 416.3,385.3 417.8,385.3 419.3,385.2 420.8,385.2 422.3,385.1 423.8,385.0 425.3,385.0 426.8,384.9 428.3,384.9 429.8,384.8 431.3,384.7 432.8,384.7 434.3,384.6 435.8,384.5 437.3,384.4 438.8,384.3 440.3,384.3 441.8,384.2 443.3,384.1 444.8,384.0 446.3,383.9 447.8,383.8 449.3,383.7 450.8,383.6 452.3,383.5 453.8,383.4 455.3,383.3 456.8,383.2 458.3,383.1 459.8,383.0 461.3,382.9 462.8,382.7 464.3,382.6 465.7,382.5 467.2,382.4 468.7,382.2 470.2,382.1 471.7,382.0 473.2,381.8 474.7,381.7 476.2,381.5 477.7,381.4 479.2,381.2 480.7,381.1 482.2,380.9 483.7,380.8 485.2,380.6 486.7,380.4 488.2,380.3 489.7,380.1 491.2,379.9 492.7,379.8 494.2,379.6 495.7,379.4 497.2,379.3 498.7,379.1 500.2,378.9 501.7,378.7 503.2,378.5 504.6,378.3 506.1,378.2 507.6,378.0 509.1,377.8 510.6,377.6 512.1,377.4 513.6,377.2 515.1,377.0 516.6,376.8 518.1,376.6 519.6,376.4 521.1,376.2 522.6,376.0 524.1,375.8 525.6,375.6 527.0,375.4 528.5,375.2 530.0,375.0 531.5,374.8 533.0,374.6 534.5,374.4 536.0,374.2 537.5,374.0 539.0,373.8 540.5,373.6 542.0,373.4 543.4,373.2 544.9,373.0 546.4,372.8 547.9,372.6 549.4,372.4 550.9,372.2 552.4,372.0 553.9,371.8 555.4,371.6 556.8,371.4 558.3,371.2 559.8,371.0 561.3,370.8"/>
<path class="c2" d="M131.5,380.9 133.0,380.5 134.4,380.1 135.9,379.8 137.4,379.5 138.8,379.2 140.3,379.0 141.8,378.8 143.2,378.6 144.7,378.4 146.2,378.2 147.7,378.1 149.1,378.0 150.6,377.9 152.1,377.9 153.5,377.9 155.0,377.9 156.5,377.9 158.0,377.9 159.4,377.9 160.9,378.0 162.4,378.1 163.9,378.2 165.3,378.3 166.8,378.4 168.3,378.6 169.8,378.8 171.2,378.9 172.7,379.1 174.2,379.3 175.7,379.6 177.2,379.8 178.6,380.0 180.1,380.3 181.6,380.6 183.1,380.8 184.6,381.1 186.0,381.4 187.5,381.7 189.0,382.0 190.5,382.3 192.0,382.6 193.4,383.0 194.9,383.3 196.4,383.6 197.9,383.9 199.4,384.3 200.9,384.6 202.3,385.0 203.8,385.3 205.3,385.7 206.8,386.0 208.3,386.3 209.8,386.7 211.3,387.0 212.7,387.4 214.2,387.7 215.7,388.1 217.2,388.4 218.7,388.8 220.2,389.1 221.7,389.4 223.2,389.8 224.6,390.1 226.1,390.4 227.6,390.8 229.1,391.1 230.6,391.4 232.1,391.7 233.6,392.0 235.1,392.3 236.6,392.6 238.1,392.9 239.5,393.2 241.0,393.4 242.5,393.7 244.0,394.0 245.5,394.2 247.0,394.4 248.5,394.7 250.0,394.9 251.5,395.1 253.0,395.3 254.5,395.5 256.0,395.7 257.4,395.8 258.9,396.0 260.4,396.2 261.9,396.3 263.4,396.4 264.9,396.5 266.4,396.6 267.9,396.7 269.4,396.8 270.9,396.9 272.4,396.9 273.9,397.0 275.4,397.0 276.9,397.0 278.4,397.1 279.9,397.1 281.3,397.1 282.8,397.1 284.3,397.0 285.8,397.0 287.3,397.0 288.8,397.0 290.3,396.9 291.8,396.9 293.3,396.9 294.8,396.8 296.3,396.8 297.8,396.7 299.3,396.7 300.8,396.6 302.3,396.6 303.8,396.5 305.3,396.5 306.8,396.5 308.3,396.4 309.8,396.4 311.3,396.4 312.8,396.3 314.3,396.3 315.8,396.3 317.3,396.3 318.8,396.2 320.2,396.2 321.7,396.2 323.2,396.2 324.7,396.1 326.2,396.1 327.7,396.1 329.2,396.1 330.7,396.0 332.2,396.0 333.7,396.0 335.2,396.0 336.7,395.9 338.2,395.9 339.7,395.9 341.2,395.8 342.7,395.8 344.2,395.7 345.7,395.7 347.2,395.6 348.7,395.6 350.2,395.5 351.7,395.5 353.2,395.4 354.7,395.3 356.2,395.2 357.7,395.2 359.2,395.1 360.7,395.0 362.2,394.9 363.6,394.8 365.1,394.8 366.6,394.7 368.1,394.6 369.6,394.5 371.1,394.4 372.6,394.3 374.1,394.2 375.6,394.1 377.1,394.0 378.6,393.9 380.1,393.8 381.6,393.8 383.1,393.7 384.6,393.6 386.1,393.5 387.6,393.4 389.1,393.3 390.6,393.2 392.0,393.1 393.5,393.0 395.0,392.9 396.5,392.8 398.0,392.8 399.5,392.7 401.0,392.6 402.5,392.5 404.0,392.4 405.5,392.3 407.0,392.2 408.5,392.2 410.0,392.1 411.4,392.0 412.9,391.9 414.4,391.8 415.9,391.7 417.4,391.6 418.9,391.5 420.4,391.4 421.9,391.3 423.4,391.2 424.9,391.1 426.4,391.0 427.8,390.8 429.3,390.7 430.8,390.6 432.3,390.4 433.8,390.3 435.3,390.2 436.8,390.0 438.3,389.8 439.7,389.7 441.2,389.5 442.7,389.3 444.2,389.1 445.7,388.9 447.2,388.7 448.7,388.5 450.1,388.3 451.6,388.1 453.1,387.8 454.6,387.6 456.1,387.3 457.6,387.1 459.1,386.8 460.5,386.5 462.0,386.2 463.5,385.9 465.0,385.6 466.5,385.2 467.9,384.9 469.4,384.6 470.9,384.2 472.4,383.9 473.9,383.5 475.3,383.2 476.8,382.9 478.3,382.5 479.8,382.2 481.3,381.9 482.7,381.5 484.2,381.2 485.7,380.9 487.2,380.6 488.6,380.3 490.1,380.0 491.6,379.7 493.1,379.5 494.6,379.2 496.0,379.0 497.5,378.8"/>
<path class="c2" d="M117.8,408.5 119.3,408.0 120.7,407.5 122.2,407.1 123.6,406.7 125.1,406.3 126.5,406.1 128.0,405.8 129.5,405.6 130.9,405.5 132.4,405.4 133.8,405.3 135.3,405.3 136.7,405.3 138.2,405.3 139.7,405.4 141.1,405.5 142.6,405.7 144.0,405.9 145.5,406.1 147.0,406.3 148.4,406.6 149.9,406.9 151.3,407.2 152.8,407.5 154.3,407.9 155.7,408.3 157.2,408.7 158.6,409.1 160.1,409.5 161.6,410.0 163.0,410.4 164.5,410.9 166.0,411.4 167.4,411.9 168.9,412.4 170.4,412.9 171.8,413.4 173.3,413.9 174.8,414.4 176.2,414.9 177.7,415.4 179.2,415.9 180.6,416.4 182.1,416.9 183.6,417.4 185.0,417.8 186.5,418.3 188.0,418.7 189.4,419.2 190.9,419.6 192.4,419.9 193.9,420.3 195.3,420.6 196.8,420.9 198.3,421.2 199.8,421.5 201.2,421.7 202.7,421.9 204.2,422.1 205.7,422.2 207.1,422.3 208.6,422.4 210.1,422.5 211.6,422.6 213.1,422.7 214.5,422.7 216.0,422.7 217.5,422.8 219.0,422.8 220.5,422.8 221.9,422.8 223.4,422.8 224.9,422.8 226.4,422.7 227.9,422.7 229.4,422.7 230.9,422.6 232.3,422.5 233.8,422.5 235.3,422.4 236.8,422.3 238.3,422.2 239.8,422.1 241.3,422.0 242.8,421.9 244.2,421.8 245.7,421.7 247.2,421.6 248.7,421.5 250.2,421.3 251.7,421.2 253.2,421.0 254.7,420.9 256.1,420.7 257.6,420.6 259.1,420.4 260.6,420.2 262.1,420.1 263.6,419.9 265.1,419.7 266.6,419.5 268.1,419.3 269.6,419.1 271.0,418.9 272.5,418.7 274.0,418.5 275.5,418.3 277.0,418.1 278.5,417.9 280.0,417.7 281.5,417.5 282.9,417.3 284.4,417.1 285.9,416.8 287.4,416.6 288.9,416.4 290.4,416.1 291.9,415.9 293.3,415.7 294.8,415.4 296.3,415.2 297.8,414.9 299.3,414.6 300.8,414.4 302.2,414.1 303.7,413.8 305.2,413.5 306.7,413.3 308.2,413.0 309.6,412.7 311.1,412.4 312.6,412.1 314.1,411.8 315.6,411.5 317.0,411.2 318.5,410.8 320.0,410.5 321.5,410.2 322.9,409.8 324.4,409.5 325.9,409.1 327.3,408.8 328.8,408.4 330.3,408.1 331.8,407.7 333.2,407.3 334.7,406.9 336.2,406.5 337.6,406.1 339.1,405.8 340.5,405.4 342.0,405.0 343.5,404.6 344.9,404.2 346.4,403.8 347.8,403.4 349.3,403.0 350.8,402.6 352.2,402.2 353.7,401.9 355.1,401.5 356.6,401.1 358.0,400.8 359.5,400.5 360.9,400.1 362.4,399.8 363.8,399.5"/>
<path class="c2" d="M112.7,456.3 114.3,455.9 115.8,455.6 117.3,455.2 118.8,454.9 120.2,454.6 121.7,454.3 123.2,454.2 124.7,454.0 126.2,454.0 127.6,454.0 129.1,454.2 130.6,454.5 132.1,454.8 133.5,455.1 135.0,455.5 136.5,455.9 138.0,456.3 139.4,456.7 140.9,457.0 142.4,457.4 143.9,457.8 145.4,458.2 146.9,458.6 148.4,459.0 149.9,459.3 151.4,459.6 152.9,459.8 154.4,459.9 155.9,459.9 157.4,459.9 158.9,459.7 160.4,459.6 161.9,459.4 163.4,459.2 164.9,459.0 166.4,458.8 167.8,458.5 169.3,458.2 170.8,457.9 172.2,457.5 173.6,457.1 175.1,456.6 176.4,456.0 177.8,455.4 179.2,454.7 180.5,454.0 181.8,453.2 183.1,452.4 184.4,451.5 185.7,450.6 187.0,449.6 188.2,448.7 189.4,447.8 190.7,446.9 191.9,446.0 193.1,445.1 194.3,444.3 195.5,443.4 196.7,442.6 197.9,441.7 199.1,440.8 200.3,439.9 201.5,439.0 202.8,438.0 204.0,437.0 205.3,436.1 206.5,435.3 207.8,434.5 209.1,433.8 210.5,433.1 211.8,432.6 213.2,432.1 214.6,431.6 216.1,431.3 217.5,431.0 219.0,430.9 220.6,430.7 222.1,430.7 223.8,430.6"/>
<path class="c2" d="M106.0,474.9 107.5,475.0 109.1,475.0 110.6,475.0 112.1,474.9 113.7,474.8 115.2,474.8 116.7,474.7 118.2,474.7 119.7,474.8 121.2,475.0 122.7,475.3 124.2,475.6 125.7,476.0 127.2,476.2 128.7,476.4 130.2,476.5 131.7,476.3 133.2,476.0 134.7,475.7 136.2,475.3 137.7,474.9 139.2,474.7 140.7,474.6 142.2,474.5 143.7,474.6 145.2,474.7 146.7,474.9 148.3,475.0 149.8,475.1 151.3,475.1 152.9,475.1 154.4,474.9"/>
<path class="g" d="M133.5,575.76 V734.5 M158.5,575.76 V734.5 M183.5,575.76 V734.5 M209.5,575.76 V734.5 M234.5,575.76 V734.5 M260.5,575.76 V734.5 M285.5,575.76 V734.5 M310.5,575.76 V734.5 M336.5,575.76 V734.5 M107.6,716.5 H336.38 M107.6,699.5 H336.38 M107.6,681.5 H336.38 M107.6,663.5 H336.38 M107.6,646.5 H336.38 M107.6,628.5 H336.38 M107.6,611.5 H336.38 M107.6,593.5 H336.38 M107.6,575.5 H336.38 "/>
<path class="ax" d="M107.6,575.76 V734.5 H336.38 M107.6,734.5 v4.6 M133.02,734.5 v4.6 M158.44,734.5 v4.6 M183.86,734.5 v4.6 M209.28,734.5 v4.6 M234.7,734.5 v4.6 M260.12,734.5 v4.6 M285.54,734.5 v4.6 M310.96,734.5 v4.6 M336.38,734.5 v4.6 M107.6,734.5 h-5.4 M107.6,716.86 h-5.4 M107.6,699.22 h-5.4 M107.6,681.59 h-5.4 M107.6,663.95 h-5.4 M107.6,646.31 h-5.4 M107.6,628.67 h-5.4 M107.6,611.03 h-5.4 M107.6,593.4 h-5.4 M107.6,575.76 h-5.4 "/>
<text transform="translate(107.6,751.9) scale(1.13,1)" font-size="12" text-anchor="middle" fill="#333" stroke="#333" stroke-width="0.4">0</text>
<text transform="translate(133.02,751.9) scale(1.13,1)" font-size="12" text-anchor="middle" fill="#333" stroke="#333" stroke-width="0.4">200</text>
<text transform="translate(183.86,751.9) scale(1.13,1)" font-size="12" text-anchor="middle" fill="#333" stroke="#333" stroke-width="0.4">600</text>
<text transform="translate(234.7,751.9) scale(1.13,1)" font-size="12" text-anchor="middle" fill="#333" stroke="#333" stroke-width="0.4">1000</text>
<text transform="translate(285.54,751.9) scale(1.13,1)" font-size="12" text-anchor="middle" fill="#333" stroke="#333" stroke-width="0.4">1400</text>
<text transform="translate(336.38,751.9) scale(1.13,1)" font-size="12" text-anchor="middle" fill="#333" stroke="#333" stroke-width="0.4">1800</text>
<text transform="translate(99.1,739) scale(1.13,1)" font-size="12" text-anchor="end" fill="#333" stroke="#333" stroke-width="0.4">0</text>
<text transform="translate(99.1,721.36) scale(1.13,1)" font-size="12" text-anchor="end" fill="#333" stroke="#333" stroke-width="0.4">20</text>
<text transform="translate(99.1,703.72) scale(1.13,1)" font-size="12" text-anchor="end" fill="#333" stroke="#333" stroke-width="0.4">40</text>
<text transform="translate(99.1,686.09) scale(1.13,1)" font-size="12" text-anchor="end" fill="#333" stroke="#333" stroke-width="0.4">60</text>
<text transform="translate(99.1,668.45) scale(1.13,1)" font-size="12" text-anchor="end" fill="#333" stroke="#333" stroke-width="0.4">80</text>
<text transform="translate(99.1,650.81) scale(1.13,1)" font-size="12" text-anchor="end" fill="#333" stroke="#333" stroke-width="0.4">100</text>
<text transform="translate(99.1,633.17) scale(1.13,1)" font-size="12" text-anchor="end" fill="#333" stroke="#333" stroke-width="0.4">120</text>
<text transform="translate(99.1,615.53) scale(1.13,1)" font-size="12" text-anchor="end" fill="#333" stroke="#333" stroke-width="0.4">140</text>
<text transform="translate(99.1,597.9) scale(1.13,1)" font-size="12" text-anchor="end" fill="#333" stroke="#333" stroke-width="0.4">160</text>
<text transform="translate(99.1,580.26) scale(1.13,1)" font-size="12" text-anchor="end" fill="#333" stroke="#333" stroke-width="0.4">180</text>
<text transform="translate(221.4,769.3) scale(1.19,1)" font-size="14" text-anchor="middle" fill="#333" stroke="#333" stroke-width="0.4">qv [m3/h]</text>
<text transform="translate(58.4,655.2) rotate(-90) scale(1.04,1.19)" font-size="14.7" text-anchor="middle" fill="#333" stroke="#333" stroke-width="0.4">Psys [W]</text>
<path class="c3" d="M124.5,585.9 L323.8,585.9"/>
<path class="c3" d="M119.2,679.9 120.0,678.6 120.8,677.2 121.6,675.9 122.5,674.7 123.4,673.4 124.3,672.2 125.2,671.0 126.1,669.8 127.1,668.6 128.0,667.5 129.0,666.3 130.0,665.2 131.0,664.1 132.1,663.0 133.1,662.0 134.2,660.9 135.3,659.9 136.4,658.9 137.5,657.9 138.6,656.9 139.8,656.0 140.9,655.0 142.1,654.1 143.3,653.2 144.5,652.3 145.7,651.4 146.9,650.6 148.2,649.7 149.4,648.9 150.7,648.1 151.9,647.3 153.2,646.5 154.5,645.7 155.8,644.9 157.1,644.2 158.5,643.4 159.8,642.7 161.1,642.0 162.5,641.3 163.9,640.6 165.2,639.9 166.6,639.2 168.0,638.5 169.4,637.9 170.8,637.2 172.2,636.6 173.6,636.0 175.0,635.4 176.4,634.8 177.9,634.2 179.3,633.6 180.8,633.0 182.2,632.5 183.6,632.0 185.1,631.4 186.6,631.0 188.0,630.5 189.5,630.0 190.9,629.6 192.4,629.2 193.9,628.8 195.4,628.5 196.8,628.2 198.3,627.9 199.8,627.6 201.3,627.4 202.7,627.2 204.2,627.0 205.7,626.9 207.2,626.8 208.6,626.7 210.1,626.7 211.6,626.7 213.1,626.7 214.5,626.8 216.0,626.9 217.5,627.1 218.9,627.3 220.4,627.6 221.8,627.8 223.3,628.2 224.7,628.5 226.1,628.9 227.6,629.4 229.0,629.8 230.4,630.4 231.8,630.9 233.2,631.4 234.6,632.0 236.0,632.7 237.4,633.3 238.8,634.0 240.2,634.7 241.5,635.4 242.9,636.1 244.2,636.9 245.5,637.7 246.9,638.5 248.2,639.3 249.5,640.2 250.7,641.0 252.0,641.9 253.3,642.8 254.5,643.7 255.8,644.6 257.0,645.5 258.2,646.4 259.4,647.3 260.6,648.3 261.7,649.2 262.9,650.2 264.0,651.1 265.2,652.0 266.3,652.9 267.5,653.8 268.7,654.6 269.9,655.4 271.2,656.1 272.5,656.8 273.8,657.3 275.3,657.8 276.7,658.3 278.2,658.6"/>
<path class="c3" d="M119.2,696.6 120.2,695.4 121.3,694.2 122.4,693.1 123.5,692.0 124.6,690.9 125.7,689.9 126.9,688.9 128.1,687.9 129.2,687.0 130.4,686.1 131.6,685.2 132.9,684.3 134.1,683.5 135.3,682.7 136.6,681.9 137.9,681.1 139.2,680.4 140.5,679.6 141.8,678.9 143.1,678.3 144.4,677.6 145.8,677.0 147.1,676.4 148.5,675.8 149.9,675.2 151.3,674.6 152.7,674.1 154.1,673.6 155.5,673.0 156.9,672.5 158.3,672.0 159.7,671.6 161.2,671.1 162.6,670.7 164.1,670.2 165.5,669.8 167.0,669.4 168.5,669.0 170.0,668.6 171.4,668.3 172.9,667.9 174.4,667.6 175.9,667.3 177.4,667.0 178.9,666.8 180.4,666.5 181.9,666.3 183.4,666.1 184.9,665.9 186.4,665.8 187.9,665.7 189.4,665.6 190.9,665.5 192.4,665.4 193.9,665.4 195.4,665.4 196.9,665.4 198.4,665.5 199.9,665.5 201.4,665.6 202.9,665.8 204.4,665.9 205.9,666.1 207.4,666.4 208.9,666.6 210.4,666.9 211.8,667.2 213.3,667.6 214.8,668.0 216.2,668.4 217.7,668.8 219.1,669.3 220.6,669.7 222.0,670.2 223.5,670.8 224.9,671.3 226.3,671.9 227.8,672.4 229.2,673.0 230.6,673.6 232.0,674.3 233.4,674.9 234.8,675.5 236.2,676.2 237.6,676.9 239.0,677.5 240.4,678.2 241.8,678.9 243.2,679.5 244.6,680.2 246.0,680.9 247.3,681.5 248.7,682.1 250.1,682.7 251.4,683.2 252.8,683.6 254.1,683.9 255.5,684.1"/>
<path class="c3" d="M113.8,722.1 115.2,721.5 116.6,721.0 118.1,720.5 119.5,720.0 121.0,719.5 122.4,719.0 123.8,718.6 125.3,718.1 126.8,717.7 128.2,717.3 129.7,716.9 131.2,716.5 132.6,716.1 134.1,715.8 135.6,715.5 137.1,715.2 138.6,714.9 140.1,714.6 141.6,714.3 143.1,714.1 144.6,713.9 146.1,713.6 147.6,713.4 149.1,713.3 150.6,713.1 152.1,712.9 153.6,712.8 155.1,712.7 156.7,712.6 158.2,712.5 159.7,712.4 161.2,712.4 162.7,712.3 164.2,712.3 165.8,712.3 167.3,712.3 168.8,712.4 170.3,712.4 171.8,712.5 173.4,712.5 174.9,712.6 176.4,712.7 177.9,712.8 179.4,713.0 180.9,713.1 182.4,713.3 183.9,713.5 185.5,713.7 187.0,713.9 188.5,714.1 190.0,714.4 191.5,714.6 193.0,714.9 194.4,715.2 195.9,715.5 197.4,715.8 198.9,716.2 200.4,716.5 201.9,716.9 203.3,717.3 204.8,717.7"/>
<path class="c3" d="M111.0,731.2 112.5,731.3 114.0,731.3 115.6,731.3 117.1,731.3 118.6,731.2 120.1,731.1 121.6,731.0 123.2,730.8 124.7,730.7 126.2,730.6 127.7,730.5 129.3,730.4 130.8,730.3 132.3,730.3 133.8,730.3 135.4,730.2 136.9,730.2 138.4,730.2 139.9,730.2 141.5,730.2 143.0,730.3 144.5,730.3 146.0,730.4 147.5,730.5 149.1,730.7 150.6,730.8 152.1,731.0 153.6,731.3"/>
<path class="c3" d="M110.5,733.7 C111.75,733.68 115.28,733.58 118,733.6 C120.72,733.62 125.33,733.77 126.8,733.8"/>
<path class="g" d="M523.5,575.75 V734.5 M549.5,575.75 V734.5 M574.5,575.75 V734.5 M599.5,575.75 V734.5 M625.5,575.75 V734.5 M650.5,575.75 V734.5 M675.5,575.75 V734.5 M701.5,575.75 V734.5 M726.5,575.75 V734.5 M498.3,718.5 H726.72 M498.3,702.5 H726.72 M498.3,686.5 H726.72 M498.3,671.5 H726.72 M498.3,655.5 H726.72 M498.3,639.5 H726.72 M498.3,623.5 H726.72 M498.3,607.5 H726.72 M498.3,591.5 H726.72 M498.3,575.5 H726.72 "/>
<path class="ax" d="M498.3,575.75 V734.5 H726.72 M498.3,734.5 v4.6 M523.68,734.5 v4.6 M549.06,734.5 v4.6 M574.44,734.5 v4.6 M599.82,734.5 v4.6 M625.2,734.5 v4.6 M650.58,734.5 v4.6 M675.96,734.5 v4.6 M701.34,734.5 v4.6 M726.72,734.5 v4.6 M498.3,734.5 h-5.4 M498.3,718.62 h-5.4 M498.3,702.75 h-5.4 M498.3,686.88 h-5.4 M498.3,671 h-5.4 M498.3,655.12 h-5.4 M498.3,639.25 h-5.4 M498.3,623.38 h-5.4 M498.3,607.5 h-5.4 M498.3,591.62 h-5.4 M498.3,575.75 h-5.4 "/>
<text transform="translate(498.3,751.9) scale(1.13,1)" font-size="12" text-anchor="middle" fill="#333" stroke="#333" stroke-width="0.4">0</text>
<text transform="translate(523.68,751.9) scale(1.13,1)" font-size="12" text-anchor="middle" fill="#333" stroke="#333" stroke-width="0.4">200</text>
<text transform="translate(574.44,751.9) scale(1.13,1)" font-size="12" text-anchor="middle" fill="#333" stroke="#333" stroke-width="0.4">600</text>
<text transform="translate(625.2,751.9) scale(1.13,1)" font-size="12" text-anchor="middle" fill="#333" stroke="#333" stroke-width="0.4">1000</text>
<text transform="translate(675.96,751.9) scale(1.13,1)" font-size="12" text-anchor="middle" fill="#333" stroke="#333" stroke-width="0.4">1400</text>
<text transform="translate(726.72,751.9) scale(1.13,1)" font-size="12" text-anchor="middle" fill="#333" stroke="#333" stroke-width="0.4">1800</text>
<text transform="translate(489.8,739) scale(1.13,1)" font-size="12" text-anchor="end" fill="#333" stroke="#333" stroke-width="0.4">0</text>
<text transform="translate(489.8,723.12) scale(1.13,1)" font-size="12" text-anchor="end" fill="#333" stroke="#333" stroke-width="0.4">5</text>
<text transform="translate(489.8,707.25) scale(1.13,1)" font-size="12" text-anchor="end" fill="#333" stroke="#333" stroke-width="0.4">10</text>
<text transform="translate(489.8,691.38) scale(1.13,1)" font-size="12" text-anchor="end" fill="#333" stroke="#333" stroke-width="0.4">15</text>
<text transform="translate(489.8,675.5) scale(1.13,1)" font-size="12" text-anchor="end" fill="#333" stroke="#333" stroke-width="0.4">20</text>
<text transform="translate(489.8,659.62) scale(1.13,1)" font-size="12" text-anchor="end" fill="#333" stroke="#333" stroke-width="0.4">25</text>
<text transform="translate(489.8,643.75) scale(1.13,1)" font-size="12" text-anchor="end" fill="#333" stroke="#333" stroke-width="0.4">30</text>
<text transform="translate(489.8,627.88) scale(1.13,1)" font-size="12" text-anchor="end" fill="#333" stroke="#333" stroke-width="0.4">35</text>
<text transform="translate(489.8,612) scale(1.13,1)" font-size="12" text-anchor="end" fill="#333" stroke="#333" stroke-width="0.4">40</text>
<text transform="translate(489.8,596.12) scale(1.13,1)" font-size="12" text-anchor="end" fill="#333" stroke="#333" stroke-width="0.4">45</text>
<text transform="translate(489.8,580.25) scale(1.13,1)" font-size="12" text-anchor="end" fill="#333" stroke="#333" stroke-width="0.4">50</text>
<text transform="translate(611.3,769.3) scale(1.19,1)" font-size="14" text-anchor="middle" fill="#333" stroke="#333" stroke-width="0.4">qv [m3/h]</text>
<text transform="translate(448.5,654.5) rotate(-90) scale(1.04,1.1)" font-size="14.7" text-anchor="middle" fill="#333" stroke="#333" stroke-width="0.4">ηsF,sys [%]</text>
<path class="c3" d="M500.2,729.6 501.1,728.4 501.8,727.0 502.5,725.7 503.1,724.3 503.9,723.0 504.7,721.7 505.6,720.5 506.8,719.5 508.1,718.7 509.6,718.5 510.7,719.1 511.4,720.5 511.9,722.0 512.4,723.4 512.9,724.9 513.4,726.3 513.9,727.7 514.5,729.1 515.2,730.4 515.9,731.7 516.7,733.0 517.5,734.3"/>
<path class="c3" d="M501.9,709.4 502.3,707.9 502.7,706.4 503.1,704.9 503.4,703.4 503.8,701.9 504.1,700.4 504.5,699.0 504.8,697.5 505.1,696.1 505.5,694.6 505.8,693.2 506.2,691.8 506.5,690.3 506.9,688.9 507.3,687.5 507.7,686.1 508.1,684.7 508.5,683.3 509.0,681.9 509.5,680.5 510.0,679.1 510.5,677.8 511.1,676.4 511.7,675.0 512.3,673.7 513.0,672.3 513.7,670.9 514.5,669.6 515.3,668.2 516.2,666.9 517.1,665.5 518.0,664.2 519.0,662.8 520.1,661.6 521.2,660.4 522.3,659.4 523.5,658.5 524.7,657.9 525.9,657.5 527.1,657.4 528.2,657.6 529.3,658.2 530.2,659.2 531.1,660.3 531.9,661.7 532.7,663.1 533.3,664.6 533.9,666.0 534.5,667.5 534.9,669.0 535.4,670.5 535.7,671.9 536.1,673.4 536.4,674.9 536.6,676.4 536.9,677.9 537.1,679.4 537.2,680.9 537.4,682.3 537.5,683.8 537.7,685.3 537.8,686.8 537.9,688.3 538.1,689.8 538.2,691.3 538.4,692.8 538.5,694.3 538.7,695.8 538.9,697.3 539.0,698.7 539.2,700.2 539.4,701.7 539.6,703.2 539.8,704.7 540.0,706.2 540.2,707.7 540.4,709.2 540.6,710.7 540.8,712.2 541.0,713.6 541.2,715.1 541.4,716.6 541.6,718.1 541.9,719.6 542.1,721.1 542.3,722.6 542.5,724.1 542.7,725.6 542.9,727.0 543.1,728.5 543.3,730.0 543.4,731.5 543.6,733.0 543.8,734.5"/>
<path class="c3" d="M504.4,691.3 504.9,689.8 505.4,688.3 505.8,686.9 506.3,685.4 506.7,684.0 507.1,682.5 507.6,681.1 508.0,679.6 508.4,678.2 508.8,676.7 509.2,675.3 509.6,673.8 510.0,672.4 510.4,670.9 510.7,669.5 511.1,668.0 511.5,666.6 511.9,665.1 512.3,663.7 512.7,662.3 513.0,660.8 513.4,659.4 513.8,657.9 514.2,656.5 514.6,655.1 515.0,653.7 515.4,652.2 515.9,650.8 516.3,649.4 516.7,648.0 517.2,646.5 517.6,645.1 518.1,643.7 518.5,642.3 519.0,640.9 519.5,639.5 520.0,638.1 520.6,636.7 521.1,635.3 521.6,633.9 522.2,632.5 522.8,631.1 523.4,629.8 524.0,628.4 524.6,627.0 525.3,625.7 526.0,624.3 526.7,622.9 527.4,621.6 528.1,620.2 528.9,618.9 529.7,617.5 530.5,616.2 531.3,614.9 532.2,613.5 533.0,612.2 533.9,610.9 534.9,609.7 535.8,608.4 536.8,607.2 537.8,606.0 538.9,604.9 539.9,603.7 541.0,602.7 542.1,601.7 543.3,600.7 544.4,599.8 545.6,598.9 546.9,598.1 548.1,597.4 549.4,596.8 550.7,596.2 552.1,595.7 553.4,595.3 554.8,595.0 556.2,594.8 557.6,594.7 559.0,594.8 560.3,595.1 561.6,595.6 562.8,596.3 563.9,597.1 565.0,598.1 566.0,599.3 566.9,600.5 567.8,601.8 568.6,603.1 569.4,604.5 570.2,605.9 570.9,607.3 571.5,608.7 572.2,610.2 572.8,611.6 573.3,613.1 573.9,614.5 574.4,616.0 574.9,617.4 575.3,618.9 575.7,620.3 576.1,621.8 576.5,623.2 576.9,624.7 577.2,626.1 577.6,627.6 577.9,629.1 578.2,630.5 578.5,632.0 578.8,633.4 579.0,634.9 579.3,636.4 579.6,637.8 579.8,639.3 580.1,640.8 580.3,642.2 580.6,643.7 580.8,645.2 581.1,646.6 581.3,648.1 581.6,649.6 581.9,651.1 582.2,652.5 582.4,654.0 582.7,655.5 583.0,656.9 583.3,658.4 583.6,659.9 583.9,661.4 584.2,662.8 584.5,664.3 584.8,665.8 585.1,667.3 585.3,668.7 585.6,670.2 585.9,671.7 586.2,673.2 586.5,674.6 586.8,676.1 587.1,677.6 587.4,679.1 587.7,680.6 588.0,682.0 588.3,683.5 588.6,685.0 588.8,686.5 589.1,688.0 589.4,689.5 589.7,690.9 589.9,692.4 590.2,693.9 590.4,695.4 590.7,696.9 590.9,698.4 591.2,699.9 591.4,701.4 591.6,702.8 591.8,704.3 592.1,705.8 592.3,707.3 592.5,708.8 592.6,710.3 592.8,711.8 593.0,713.3 593.2,714.8 593.3,716.3 593.4,717.8 593.6,719.3 593.7,720.8 593.8,722.3 593.9,723.8 594.0,725.3 594.1,726.8 594.2,728.3 594.2,729.8 594.3,731.3 594.3,732.8 594.3,734.3"/>
<path class="c3" d="M508.8,677.0 509.3,675.6 509.8,674.2 510.3,672.8 510.8,671.4 511.3,670.0 511.8,668.6 512.3,667.2 512.8,665.8 513.3,664.3 513.8,662.9 514.3,661.5 514.9,660.1 515.4,658.7 515.9,657.2 516.4,655.8 516.9,654.4 517.4,653.0 518.0,651.5 518.5,650.1 519.0,648.7 519.6,647.3 520.1,645.9 520.7,644.5 521.2,643.0 521.8,641.6 522.4,640.2 522.9,638.9 523.5,637.5 524.1,636.1 524.7,634.7 525.4,633.3 526.0,632.0 526.6,630.6 527.3,629.2 528.0,627.9 528.6,626.6 529.3,625.2 530.0,623.9 530.7,622.6 531.5,621.3 532.2,620.0 532.9,618.7 533.7,617.5 534.5,616.2 535.3,615.0 536.1,613.7 537.0,612.5 537.8,611.3 538.7,610.1 539.6,608.9 540.5,607.7 541.4,606.6 542.3,605.4 543.3,604.3 544.3,603.2 545.3,602.1 546.3,601.0 547.3,600.0 548.4,598.9 549.5,597.9 550.6,596.9 551.7,595.9 552.9,594.9 554.1,593.9 555.3,593.0 556.5,592.1 557.7,591.2 559.0,590.3 560.3,589.4 561.6,588.6 563.0,587.8 564.3,587.0 565.7,586.3 567.1,585.6 568.5,584.9 569.9,584.2 571.4,583.6 572.8,583.0 574.3,582.5 575.7,582.0 577.2,581.6 578.6,581.2 580.1,580.8 581.6,580.5 583.0,580.3 584.5,580.1 585.9,579.9 587.4,579.9 588.8,579.9 590.2,580.1 591.6,580.3 593.0,580.6 594.4,581.0 595.7,581.5 597.1,582.1 598.4,582.8 599.7,583.5 600.9,584.3 602.1,585.1 603.3,586.0 604.5,586.9 605.6,587.9 606.7,588.9 607.7,590.0 608.7,591.1 609.6,592.2 610.6,593.3 611.4,594.5 612.3,595.7 613.1,596.9 613.9,598.2 614.6,599.4 615.3,600.7 616.0,602.1 616.7,603.4 617.3,604.8 617.9,606.1 618.5,607.5 619.1,609.0 619.6,610.4 620.1,611.8 620.6,613.3 621.1,614.7 621.6,616.2 622.0,617.7 622.5,619.2 622.9,620.7 623.3,622.1 623.7,623.6 624.1,625.1 624.5,626.6 624.9,628.1 625.3,629.6 625.6,631.1 626.0,632.6 626.4,634.1 626.7,635.6 627.1,637.1 627.5,638.6 627.8,640.1 628.2,641.6 628.5,643.0 628.8,644.5 629.2,646.0 629.5,647.5 629.9,648.9 630.2,650.4 630.5,651.9 630.8,653.3 631.2,654.8 631.5,656.3 631.8,657.7 632.1,659.2 632.4,660.6 632.7,662.1 633.0,663.6 633.4,665.0 633.7,666.5 634.0,667.9 634.2,669.4 634.5,670.8 634.8,672.3 635.1,673.8 635.4,675.2 635.7,676.7 636.0,678.1 636.3,679.6 636.5,681.0 636.8,682.5 637.1,683.9 637.4,685.4 637.6,686.9 637.9,688.3 638.2,689.8 638.4,691.2 638.7,692.7 639.0,694.2 639.2,695.6 639.5,697.1 639.8,698.6 640.0,700.0 640.3,701.5 640.5,703.0 640.8,704.4 641.0,705.9 641.3,707.4 641.5,708.8 641.8,710.3 642.0,711.8 642.3,713.3 642.5,714.8 642.8,716.3 643.0,717.7 643.3,719.2 643.5,720.7 643.8,722.2 644.0,723.7 644.2,725.2 644.5,726.7 644.7,728.2 645.0,729.7 645.2,731.3 645.5,732.8 645.7,734.3"/>
<path class="c3" d="M511.3,676.8 511.8,675.4 512.3,674.0 512.8,672.6 513.3,671.2 513.8,669.9 514.3,668.5 514.8,667.0 515.4,665.6 515.9,664.2 516.4,662.8 516.9,661.4 517.5,660.0 518.0,658.6 518.5,657.2 519.1,655.8 519.6,654.4 520.2,652.9 520.8,651.5 521.3,650.1 521.9,648.7 522.5,647.3 523.1,645.9 523.7,644.5 524.3,643.1 524.9,641.7 525.5,640.4 526.2,639.0 526.8,637.6 527.5,636.2 528.1,634.9 528.8,633.5 529.5,632.2 530.2,630.8 530.9,629.5 531.6,628.2 532.3,626.9 533.0,625.6 533.8,624.3 534.6,623.0 535.3,621.7 536.1,620.4 536.9,619.2 537.7,617.9 538.6,616.7 539.4,615.4 540.3,614.2 541.1,613.0 542.0,611.8 542.9,610.7 543.9,609.5 544.8,608.4 545.7,607.2 546.7,606.1 547.7,605.0 548.7,603.9 549.7,602.9 550.8,601.8 551.8,600.8 552.9,599.8 554.0,598.8 555.1,597.8 556.2,596.8 557.4,595.9 558.5,595.0 559.7,594.1 560.9,593.2 562.2,592.3 563.4,591.4 564.7,590.6 566.0,589.8 567.2,589.0 568.6,588.3 569.9,587.5 571.2,586.8 572.6,586.1 573.9,585.4 575.3,584.7 576.7,584.1 578.1,583.4 579.5,582.8 581.0,582.2 582.4,581.7 583.8,581.1 585.3,580.6 586.7,580.1 588.2,579.6 589.7,579.2 591.1,578.8 592.6,578.4 594.1,578.1 595.6,577.8 597.1,577.6 598.6,577.5 600.1,577.4 601.6,577.3 603.1,577.4 604.6,577.5 606.1,577.7 607.6,577.9 609.0,578.2 610.5,578.6 611.9,579.1 613.4,579.6 614.8,580.1 616.1,580.7 617.4,581.4 618.7,582.1 620.0,582.9 621.2,583.7 622.3,584.6 623.4,585.5 624.5,586.5 625.5,587.5 626.5,588.5 627.5,589.6 628.4,590.7 629.3,591.8 630.1,593.0 631.0,594.2 631.8,595.4 632.6,596.7 633.3,598.0 634.0,599.3 634.7,600.6 635.4,601.9 636.1,603.2 636.7,604.6 637.4,606.0 638.0,607.3 638.6,608.7 639.2,610.1 639.8,611.5 640.3,612.9 640.9,614.3 641.5,615.7 642.0,617.1 642.5,618.5 643.1,619.9 643.6,621.3 644.1,622.7 644.6,624.2 645.1,625.6 645.6,627.0 646.0,628.4 646.5,629.9 647.0,631.3 647.4,632.7 647.9,634.2 648.3,635.6 648.7,637.1 649.2,638.5 649.6,640.0 650.0,641.4 650.4,642.9 650.8,644.3 651.2,645.8 651.5,647.2 651.9,648.7 652.3,650.2 652.6,651.6 653.0,653.1 653.4,654.6 653.7,656.0 654.0,657.5 654.4,659.0 654.7,660.5 655.0,661.9 655.4,663.4 655.7,664.9 656.0,666.4 656.3,667.9 656.6,669.3 656.9,670.8 657.2,672.3 657.5,673.8 657.8,675.3 658.1,676.7 658.4,678.2 658.7,679.7 658.9,681.2 659.2,682.7 659.5,684.2 659.8,685.7 660.0,687.1 660.3,688.6 660.6,690.1 660.8,691.6 661.1,693.1 661.4,694.6 661.6,696.1 661.9,697.5 662.2,699.0 662.4,700.5 662.7,702.0 662.9,703.5 663.2,705.0 663.5,706.4 663.7,707.9 664.0,709.4 664.2,710.9 664.5,712.4 664.8,713.8 665.0,715.3 665.3,716.8 665.6,718.2 665.8,719.7 666.1,721.2 666.4,722.6 666.6,724.1 666.9,725.6 667.2,727.0 667.5,728.5 667.7,729.9 668.0,731.4 668.3,732.9 668.6,734.3"/>
<path class="c3" d="M514.4,676.4 515.0,675.0 515.7,673.7 516.3,672.3 517.0,670.9 517.6,669.6 518.2,668.2 518.9,666.9 519.5,665.5 520.2,664.1 520.8,662.8 521.5,661.4 522.2,660.1 522.8,658.7 523.5,657.4 524.2,656.0 524.8,654.7 525.5,653.4 526.2,652.0 526.9,650.7 527.6,649.4 528.3,648.0 529.0,646.7 529.7,645.4 530.5,644.1 531.2,642.8 531.9,641.5 532.7,640.1 533.4,638.8 534.2,637.6 534.9,636.3 535.7,635.0 536.5,633.7 537.3,632.4 538.1,631.1 538.9,629.9 539.7,628.6 540.5,627.4 541.4,626.1 542.2,624.9 543.0,623.6 543.9,622.4 544.8,621.2 545.7,619.9 546.6,618.7 547.5,617.5 548.4,616.3 549.3,615.1 550.3,613.9 551.2,612.7 552.2,611.6 553.2,610.4 554.2,609.2 555.2,608.1 556.2,607.0 557.2,605.9 558.3,604.8 559.3,603.7 560.4,602.6 561.5,601.6 562.6,600.5 563.7,599.5 564.9,598.5 566.0,597.5 567.2,596.6 568.4,595.6 569.6,594.7 570.8,593.8 572.0,593.0 573.2,592.1 574.5,591.3 575.8,590.6 577.1,589.8 578.4,589.1 579.7,588.4 581.1,587.7 582.4,587.0 583.8,586.4 585.2,585.8 586.6,585.2 588.0,584.7 589.4,584.1 590.8,583.6 592.3,583.1 593.7,582.7 595.2,582.2 596.6,581.8 598.1,581.4 599.6,581.0 601.1,580.7 602.6,580.4 604.1,580.1 605.6,579.8 607.0,579.5 608.5,579.3 610.0,579.1 611.5,578.9 613.0,578.8 614.5,578.7 616.0,578.6 617.5,578.6 619.0,578.6 620.4,578.7 621.9,578.8 623.3,578.9 624.8,579.1 626.2,579.4 627.6,579.7 629.0,580.0 630.4,580.4 631.8,580.8 633.1,581.3 634.5,581.9 635.8,582.5 637.1,583.1 638.4,583.8 639.7,584.5 641.0,585.3 642.2,586.1 643.4,586.9 644.6,587.8 645.8,588.7 647.0,589.7 648.2,590.7 649.3,591.7 650.4,592.7 651.5,593.7 652.6,594.8 653.6,595.9 654.7,597.0 655.7,598.1 656.7,599.3 657.7,600.4 658.6,601.6 659.6,602.8 660.5,604.0 661.4,605.2 662.3,606.4 663.2,607.7 664.1,608.9 664.9,610.2 665.8,611.4 666.6,612.7 667.4,614.0 668.2,615.3 669.0,616.6 669.8,618.0 670.6,619.3 671.4,620.6 672.1,621.9 672.9,623.3 673.6,624.6 674.3,626.0 675.1,627.3 675.8,628.7 676.5,630.0 677.2,631.4 677.9,632.7 678.6,634.1 679.3,635.4 680.0,636.8 680.6,638.2 681.3,639.5 682.0,640.9 682.6,642.2 683.3,643.6 683.9,645.0 684.6,646.3 685.2,647.7 685.9,649.0 686.5,650.4 687.1,651.8 687.7,653.1 688.3,654.5 688.9,655.9 689.5,657.3 690.1,658.6 690.7,660.0 691.3,661.4 691.9,662.8 692.4,664.1 693.0,665.5 693.6,666.9 694.1,668.3 694.7,669.7 695.2,671.1 695.7,672.5 696.3,673.8 696.8,675.2 697.3,676.6 697.9,678.0 698.4,679.4 698.9,680.8 699.4,682.2 699.9,683.6 700.4,685.0 700.9,686.4 701.3,687.9 701.8,689.3 702.3,690.7 702.8,692.1 703.2,693.5 703.7,694.9 704.1,696.4 704.6,697.8 705.0,699.2 705.5,700.7 705.9,702.1 706.3,703.5 706.8,705.0 707.2,706.4 707.6,707.8 708.0,709.3 708.4,710.7 708.8,712.2 709.2,713.6 709.6,715.1 710.0,716.6 710.4,718.0 710.8,719.5 711.1,721.0 711.5,722.4 711.9,723.9 712.2,725.4 712.6,726.9 712.9,728.3 713.3,729.8 713.6,731.3 714.0,732.8 714.3,734.3"/>
<g opacity="0.062" fill="#000" stroke="#000" stroke-linejoin="round">
<text transform="translate(36.5,471.5) scale(1.1,1)" text-anchor="start" font-family='"Noto Sans CJK SC", "WenQuanYi Zen Hei", sans-serif' font-weight="700" font-size="101" letter-spacing="12" stroke-width="3.4" dx="0 0 0 0 0 -4.5">恒瑞宏晟机电</text>
<text transform="translate(33,558.5) scale(1.1,1)" text-anchor="start" font-size="51" letter-spacing="17.35" stroke-width="1.8" dx="0.23 2.15 3.30 2.05 -1.02 0.00 0.91 0.56 -2.73 1.59 3.64 -4.55 -1.48 -0.45 -1.93 -2.62">www.bjhengrui.cn</text>
</g>
</svg>
</body></html>
